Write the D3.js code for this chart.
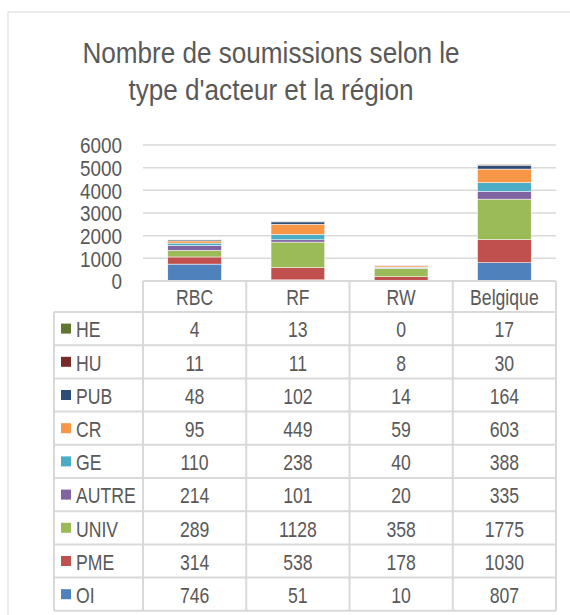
<!DOCTYPE html>
<html>
<head>
<meta charset="utf-8">
<script src="https://cdn.jsdelivr.net/npm/d3@7"></script>
<style>
  body { margin: 0; background: #fff; }
  svg text { font-family: "Liberation Sans", Arial, sans-serif; fill: #595959; }
</style>
</head>
<body>
<svg id="chart" width="570" height="615"></svg>
<script>
// regions (columns) and actor types (stack order, bottom first)
var regions = ["RBC", "RF", "RW", "Belgique"];
var actors = ["OI", "PME", "UNIV", "AUTRE", "GE", "CR", "PUB", "HU", "HE"];
var colors = ["#4F81BD", "#C0504D", "#9BBB59", "#8064A2", "#4BACC6", "#F79646", "#2C4D75", "#772C2A", "#5F7530"];

// values per actor, in region order
var OI    = [746, 51, 10, 807];
var PME   = [314, 538, 178, 1030];
var UNIV  = [289, 1128, 358, 1775];
var AUTRE = [214, 101, 20, 335];
var GE    = [110, 238, 40, 388];
var CR    = [95, 449, 59, 603];
var PUB   = [48, 102, 14, 164];
var HU    = [11, 11, 8, 30];
var HE    = [4, 13, 0, 17];

var yTicks = [0, 1000, 2000, 3000, 4000, 5000, 6000];
var title = ["Nombre de soumissions selon le", "type d'acteur et la région"];

var series = { OI: OI, PME: PME, UNIV: UNIV, AUTRE: AUTRE, GE: GE, CR: CR, PUB: PUB, HU: HU, HE: HE };

var rows = regions.map(function (r, i) {
  var o = { region: r };
  actors.forEach(function (a) { o[a] = series[a][i]; });
  return o;
});

var svg = d3.select("svg#chart");
var grid = "#d9d9d9";
var narrow = 0.82; // no narrow font installed, squeeze Liberation Sans instead

// put text at (x,y) and squeeze it horizontally
function place(sel, fx, fy, s) {
  sel.attr("transform", function (d, i) {
    return "translate(" + fx(d, i) + "," + fy(d, i) + ") scale(" + s + ",1)";
  });
}

// chart area border
svg.append("rect")
  .attr("x", 8).attr("y", 12)
  .attr("width", 620).attr("height", 700)
  .attr("fill", "none")
  .attr("stroke", grid)
  .attr("stroke-width", 1);

// title
svg.append("g")
  .selectAll("text")
  .data(title)
  .enter()
  .append("text")
  .attr("text-anchor", "middle")
  .style("font-size", "30px")
  .text(function (d) { return d; })
  .call(place, function () { return 271; }, function (d, i) { return 63 + i * 37; }, 0.87);

var x = d3.scaleBand()
  .domain(regions)
  .range([143, 556])
  .paddingInner(0.48)
  .paddingOuter(0.24);

var y = d3.scaleLinear()
  .domain([0, 6000])
  .range([281, 145]);

// gridlines
svg.append("g")
  .selectAll("line")
  .data(yTicks.slice(1))
  .enter()
  .append("line")
  .attr("x1", 143).attr("x2", 556)
  .attr("y1", function (d) { return y(d); })
  .attr("y2", function (d) { return y(d); })
  .attr("stroke", grid)
  .attr("stroke-width", 1.5);

// y axis labels
var yAxis = d3.axisLeft(y).tickValues(yTicks).tickFormat(d3.format("d")).tickSize(0).tickPadding(0);
var ya = svg.append("g")
  .attr("transform", "translate(122,0)")
  .call(yAxis);
ya.select(".domain").remove();
ya.selectAll("text")
  .style("font-size", "22px")
  .attr("fill", "#595959")
  .attr("dy", "0.36em")
  .attr("transform", "scale(0.86,1)");

// stacked bars
var stack = d3.stack().keys(actors)(rows);
svg.append("g")
  .selectAll("g")
  .data(stack)
  .enter()
  .append("g")
  .attr("fill", function (d, i) { return colors[i]; })
  .selectAll("rect")
  .data(function (d) { return d; })
  .enter()
  .append("rect")
  .attr("x", function (d) { return x(d.data.region); })
  .attr("width", x.bandwidth())
  .attr("y", function (d) { return y(d[1]); })
  .attr("height", function (d) { return y(d[0]) - y(d[1]); })
  .attr("stroke", "#fff")
  .attr("stroke-width", 0.5);

// data table
var tableTop = 281, headH = 31, rowH = 33.2, tableLeft = 54;
var colEdges = [143].concat(regions.map(function (r) { return x(r) + x.bandwidth() + x.step() * x.paddingInner() / 2; }));
colEdges[colEdges.length - 1] = 556;
var tableRows = actors.slice().reverse();
var tableBottom = tableTop + headH + rowH * tableRows.length;

var tbl = svg.append("g").attr("stroke", grid).attr("stroke-width", 2);

// horizontal lines
tbl.append("line")
  .attr("x1", 143).attr("x2", 556)
  .attr("y1", tableTop).attr("y2", tableTop);
tbl.selectAll("line.h")
  .data(d3.range(tableRows.length + 1))
  .enter()
  .append("line")
  .attr("class", "h")
  .attr("x1", tableLeft).attr("x2", 556)
  .attr("y1", function (d) { return tableTop + headH + d * rowH; })
  .attr("y2", function (d) { return tableTop + headH + d * rowH; });

// vertical lines
tbl.append("line")
  .attr("x1", tableLeft).attr("x2", tableLeft)
  .attr("y1", tableTop + headH).attr("y2", tableBottom);
tbl.selectAll("line.v")
  .data(colEdges)
  .enter()
  .append("line")
  .attr("class", "v")
  .attr("x1", function (d) { return d; })
  .attr("x2", function (d) { return d; })
  .attr("y1", tableTop).attr("y2", tableBottom);

var fs = "21.5px";

// header labels
svg.append("g")
  .selectAll("text")
  .data(regions)
  .enter()
  .append("text")
  .attr("dy", "0.36em")
  .attr("text-anchor", "middle")
  .style("font-size", fs)
  .text(function (d) { return d; })
  .call(place, function (d) { return x(d) + x.bandwidth() / 2; }, function () { return tableTop + headH / 2 + 1; }, narrow);

// table rows
var tr = svg.append("g")
  .selectAll("g")
  .data(tableRows)
  .enter()
  .append("g")
  .attr("transform", function (d, i) { return "translate(0," + (tableTop + headH + i * rowH) + ")"; });

tr.append("rect")
  .attr("x", 61)
  .attr("y", rowH / 2 - 5)
  .attr("width", 10).attr("height", 10)
  .attr("fill", function (d) { return colors[actors.indexOf(d)]; });

tr.append("text")
  .attr("dy", "0.36em")
  .style("font-size", fs)
  .text(function (d) { return d; })
  .call(place, function () { return 76; }, function () { return rowH / 2 + 1; }, narrow);

tr.selectAll("text.v")
  .data(function (a) { return series[a].map(function (v, i) { return { v: v, r: regions[i] }; }); })
  .enter()
  .append("text")
  .attr("class", "v")
  .attr("dy", "0.36em")
  .attr("text-anchor", "middle")
  .style("font-size", fs)
  .text(function (d) { return d.v; })
  .call(place, function (d) { return x(d.r) + x.bandwidth() / 2; }, function () { return rowH / 2 + 1; }, narrow);
</script>
</body>
</html>
